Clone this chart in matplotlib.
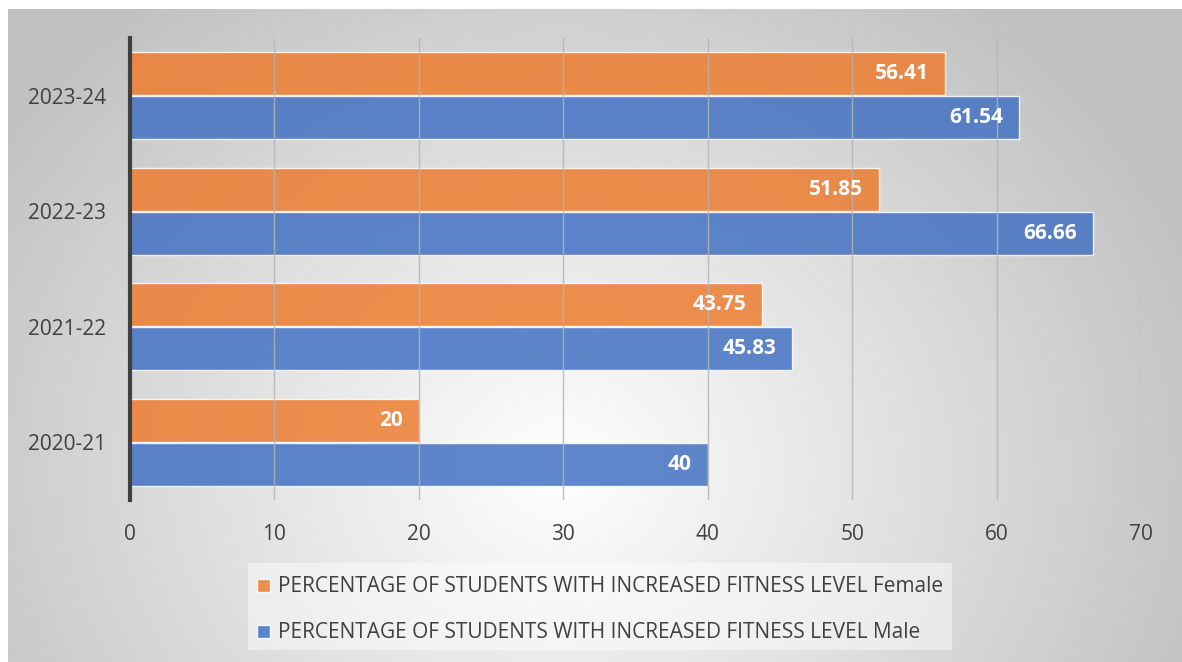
import numpy as np
import matplotlib
matplotlib.use("Agg")
import matplotlib.pyplot as plt
from matplotlib.patches import Rectangle

years = ["2020-21", "2021-22", "2022-23", "2023-24"]
female = [20, 43.75, 51.85, 56.41]
male = [40, 45.83, 66.66, 61.54]
female_labels = ["20", "43.75", "51.85", "56.41"]
male_labels = ["40", "45.83", "66.66", "61.54"]
legend_labels = ["PERCENTAGE OF STUDENTS WITH INCREASED FITNESS LEVEL Female",
                 "PERCENTAGE OF STUDENTS WITH INCREASED FITNESS LEVEL Male"]
xticks = [0, 10, 20, 30, 40, 50, 60, 70]

plt.rcParams['font.family'] = ['Open Sans', 'DejaVu Sans']

W, H = 1182, 662
fig = plt.figure(figsize=(W / 100, H / 100), dpi=100)

# background radial gradient (chart area)
bx0, by0 = 8, 9
bg = fig.add_axes([bx0 / W, 0, 1 - bx0 / W, 1 - by0 / H])
bg.set_axis_off()
gx = np.linspace(bx0, W, 400)
gy = np.linspace(by0, H, 240)
X, Y = np.meshgrid(gx, gy)
cx, cy = 560, 470
r = np.sqrt((X - cx) ** 2 + ((Y - cy) * 1.15) ** 2)
t = np.clip(r / 680, 0, 1)
v = 1.0 - t * (1.0 - 0.76)
img = np.dstack([v, v, v])
bg.imshow(img, extent=[0, 1, 0, 1], aspect='auto', origin='upper', interpolation='bilinear')
bg.set_xlim(0, 1)
bg.set_ylim(0, 1)

# legend box background
lx0, lx1, ly0, ly1 = 248, 952, 563, 650
fig.patches.append(Rectangle((lx0 / W, 1 - ly1 / H), (lx1 - lx0) / W, (ly1 - ly0) / H,
                             transform=fig.transFigure, facecolor='white', alpha=0.45,
                             edgecolor='none', zorder=1))

ax = fig.add_axes([130 / W, 1 - 500 / H, (1141 - 130) / W, (500 - 38) / H])
ax.patch.set_alpha(0)

y = np.arange(len(years))
h = 0.37
orange = '#ED7D31'
blue = '#4472C4'
bf = ax.barh(y + h / 2 + 0.005, female, height=h, color=orange, alpha=0.85,
             edgecolor=(1, 1, 1, 0.6), linewidth=1, zorder=2, label=legend_labels[0])
bm = ax.barh(y - h / 2 - 0.005, male, height=h, color=blue, alpha=0.85,
             edgecolor=(1, 1, 1, 0.6), linewidth=1, zorder=2, label=legend_labels[1])

for rect, lab in zip(bf, female_labels):
    ax.annotate(lab, (rect.get_width(), rect.get_y() + rect.get_height() / 2),
                xytext=(-11.5, 0), textcoords='offset points', ha='right', va='center',
                color='white', fontsize=15, fontweight='bold', zorder=4)
for rect, lab in zip(bm, male_labels):
    ax.annotate(lab, (rect.get_width(), rect.get_y() + rect.get_height() / 2),
                xytext=(-11.5, 0), textcoords='offset points', ha='right', va='center',
                color='white', fontsize=15, fontweight='bold', zorder=4)

ax.set_xlim(0, 70)
ax.set_ylim(-0.5, 3.5)
ax.set_xticks(xticks)
ax.set_xticklabels([str(v) for v in xticks])
ax.set_yticks(y)
ax.set_yticklabels(years)
ax.tick_params(axis='both', length=0, labelsize=15, labelcolor='#404040')
ax.tick_params(axis='x', pad=17)
ax.tick_params(axis='y', pad=17)
for x in xticks[1:]:
    ax.axvline(x, color='#b4b4b4', linewidth=1, zorder=3, alpha=0.85)
for s in ['top', 'right', 'bottom']:
    ax.spines[s].set_visible(False)
ax.spines['left'].set_color('#404040')
ax.spines['left'].set_linewidth(3)
ax.spines['left'].set_zorder(5)

handles = [bf, bm]
leg = fig.legend(handles, legend_labels, loc='center',
                 bbox_to_anchor=((lx0 + lx1) / 2 / W, 1 - ((ly0 + ly1) / 2 + 3.5) / H),
                 ncol=1, frameon=False, fontsize=15, labelcolor='#404040',
                 handlelength=0.6, handleheight=0.6, handletextpad=0.4, labelspacing=1.2)

fig.savefig('out.png', dpi=100)
